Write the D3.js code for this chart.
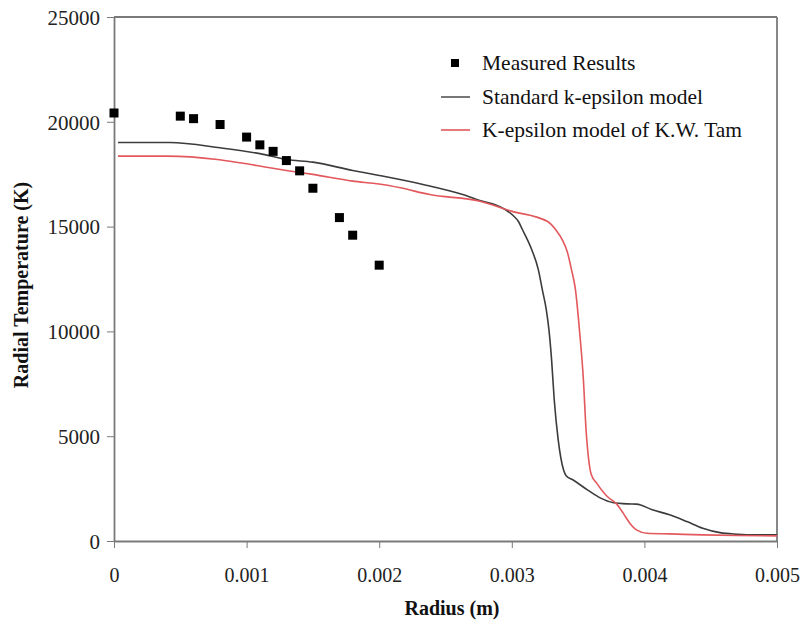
<!DOCTYPE html>
<html>
<head>
<meta charset="utf-8">
<script src="https://cdn.jsdelivr.net/npm/d3@7"></script>
<style>
  html, body { margin: 0; padding: 0; background: #ffffff; }
  svg { display: block; }
</style>
</head>
<body>
<svg id="chart" width="806" height="626"></svg>
<script>
// ---- Data ----
const xTicks = [0, 0.001, 0.002, 0.003, 0.004, 0.005];
const xTickLabels = ["0", "0.001", "0.002", "0.003", "0.004", "0.005"];
const yTicks = [0, 5000, 10000, 15000, 20000, 25000];
const yTickLabels = ["0", "5000", "10000", "15000", "20000", "25000"];

const seriesNames = ["Measured Results", "Standard k-epsilon model", "K-epsilon model of K.W. Tam"];

// Measured results (radius m, temperature K)
const measuredR = [0, 0.0005, 0.0006, 0.0008, 0.001, 0.0011, 0.0012, 0.0013, 0.0014, 0.0015, 0.0017, 0.0018, 0.002];
const measuredT = [20420, 20270, 20150, 19870, 19270, 18900, 18590, 18150, 17660, 16830, 15430, 14590, 13160];

// Standard k-epsilon model
const stdR = [0.00003, 0.00042, 0.0008, 0.0011, 0.0013, 0.0015, 0.0018, 0.002, 0.00233, 0.00263,
              0.00278, 0.00287, 0.00295, 0.00301, 0.00305, 0.00308, 0.00315, 0.0032, 0.00323, 0.00326,
              0.00328, 0.0033, 0.00332, 0.00335, 0.00339, 0.00341, 0.00346, 0.00357,
              0.00367, 0.00376, 0.00387, 0.00394, 0.00406, 0.00419, 0.00432, 0.00444, 0.00457, 0.0047, 0.00482, 0.005];
const stdT = [19010, 19010, 18760, 18480, 18200, 18075, 17680, 17440, 17010, 16530,
              16210, 16055, 15816, 15529, 15242, 14861, 13905, 12950, 11994, 11039,
              10084, 8651, 6740, 4829, 3396, 3110, 2920, 2440,
              2045, 1835, 1770, 1760, 1490, 1250, 930, 610, 400, 325, 290, 290];

// K-epsilon model of K.W. Tam
const tamR = [0.00003, 0.0004, 0.00078, 0.00095, 0.00115, 0.0013, 0.0015, 0.0018, 0.002, 0.00216, 0.00238, 0.00276,
              0.00299, 0.00327, 0.00333, 0.00338, 0.00342, 0.00345, 0.00348, 0.00351, 0.00354, 0.00356, 0.00358,
              0.0036, 0.00364, 0.00372,
              0.00379, 0.00384, 0.00389, 0.00394, 0.00402, 0.00419, 0.00444, 0.0047, 0.005];
const tamT = [18360, 18360, 18200, 18045, 17835, 17680, 17490, 17170, 17030, 16850, 16530, 16210,
              15750, 15242, 14860, 14382, 13761, 12950, 11994, 10084, 7695, 5307, 3874,
              3157, 2761, 2121,
              1770, 1330, 850, 530, 370, 340, 290, 260, 245];

// ---- Layout ----
const svg = d3.select("#chart");
const mLeft = 114, mRight = 777, mTop = 17, mBottom = 541;
const fontFam = "'Liberation Serif', 'Times New Roman', serif";

const x = d3.scaleLinear().domain([0, 0.005]).range([mLeft, mRight]);
const y = d3.scaleLinear().domain([0, 25000]).range([mBottom, mTop]);

const axisColor = "#7a7a7a";

// Frame (top and right borders)
svg.append("line").attr("x1", mLeft).attr("x2", mRight).attr("y1", mTop).attr("y2", mTop)
  .attr("stroke", axisColor).attr("stroke-width", 1.8);
svg.append("line").attr("x1", mRight).attr("x2", mRight).attr("y1", mTop).attr("y2", mBottom)
  .attr("stroke", axisColor).attr("stroke-width", 1.8);

// X axis
const xAxis = d3.axisBottom(x).tickValues(xTicks).tickSize(7).tickSizeOuter(0)
  .tickFormat((d, i) => xTickLabels[i]);
const gx = svg.append("g").attr("transform", `translate(0,${mBottom})`).call(xAxis);
gx.select(".domain").attr("stroke", axisColor).attr("stroke-width", 1.8);
gx.selectAll(".tick line").attr("stroke", axisColor).attr("stroke-width", 1);
gx.selectAll(".tick text").attr("font-family", fontFam).attr("font-size", 20)
  .attr("fill", "#222").attr("y", 0).attr("dy", "41px");

// Y axis
const yAxis = d3.axisLeft(y).tickValues(yTicks).tickSize(7).tickSizeOuter(0)
  .tickFormat((d, i) => yTickLabels[i]);
const gy = svg.append("g").attr("transform", `translate(${mLeft},0)`).call(yAxis);
gy.select(".domain").attr("stroke", axisColor).attr("stroke-width", 1.8);
gy.selectAll(".tick text").attr("font-family", fontFam).attr("font-size", 21)
  .attr("fill", "#222").attr("x", -14).attr("dy", "0.35em");
gy.selectAll(".tick line").attr("stroke", axisColor).attr("stroke-width", 1);

// Lines
const line = d3.line().x(d => x(d[0])).y(d => y(d[1])).curve(d3.curveMonotoneX);
const stdData = stdR.map((r, i) => [r, stdT[i]]);
const tamData = tamR.map((r, i) => [r, tamT[i]]);

svg.append("path").datum(stdData).attr("d", line)
  .attr("fill", "none").attr("stroke", "#3c3c3c").attr("stroke-width", 1.6);
svg.append("path").datum(tamData).attr("d", line)
  .attr("fill", "none").attr("stroke", "#e2585c").attr("stroke-width", 1.6);

// Measured points
const sq = 9;
svg.append("g").selectAll("rect").data(measuredR.map((r, i) => [r, measuredT[i]]))
  .join("rect")
  .attr("x", d => x(d[0]) - sq / 2).attr("y", d => y(d[1]) - sq / 2)
  .attr("width", sq).attr("height", sq).attr("fill", "#000");

// Legend
const lg = svg.append("g").attr("font-family", fontFam).attr("font-size", 21.5).attr("fill", "#111");
const rows = [63, 97, 130];
lg.append("rect").attr("x", 455 - 4).attr("y", rows[0] - 4).attr("width", 8).attr("height", 8).attr("fill", "#000");
lg.append("line").attr("x1", 441).attr("x2", 470).attr("y1", rows[1]).attr("y2", rows[1])
  .attr("stroke", "#555").attr("stroke-width", 1.6);
lg.append("line").attr("x1", 441).attr("x2", 470).attr("y1", rows[2]).attr("y2", rows[2])
  .attr("stroke", "#e2585c").attr("stroke-width", 1.6);
seriesNames.forEach((name, i) => {
  lg.append("text").attr("x", 482).attr("y", rows[i]).attr("dy", "0.32em").text(name);
});

// Axis titles
svg.append("text").attr("x", 452).attr("y", 608).attr("dy", "0.35em")
  .attr("text-anchor", "middle").attr("font-family", fontFam).attr("font-size", 20)
  .attr("font-weight", "bold").attr("fill", "#111").text("Radius (m)");
svg.append("text").attr("transform", "translate(21,285) rotate(-90)").attr("dy", "0.35em")
  .attr("text-anchor", "middle").attr("font-family", fontFam).attr("font-size", 20)
  .attr("font-weight", "bold").attr("fill", "#111").text("Radial Temperature (K)");
</script>
</body>
</html>
